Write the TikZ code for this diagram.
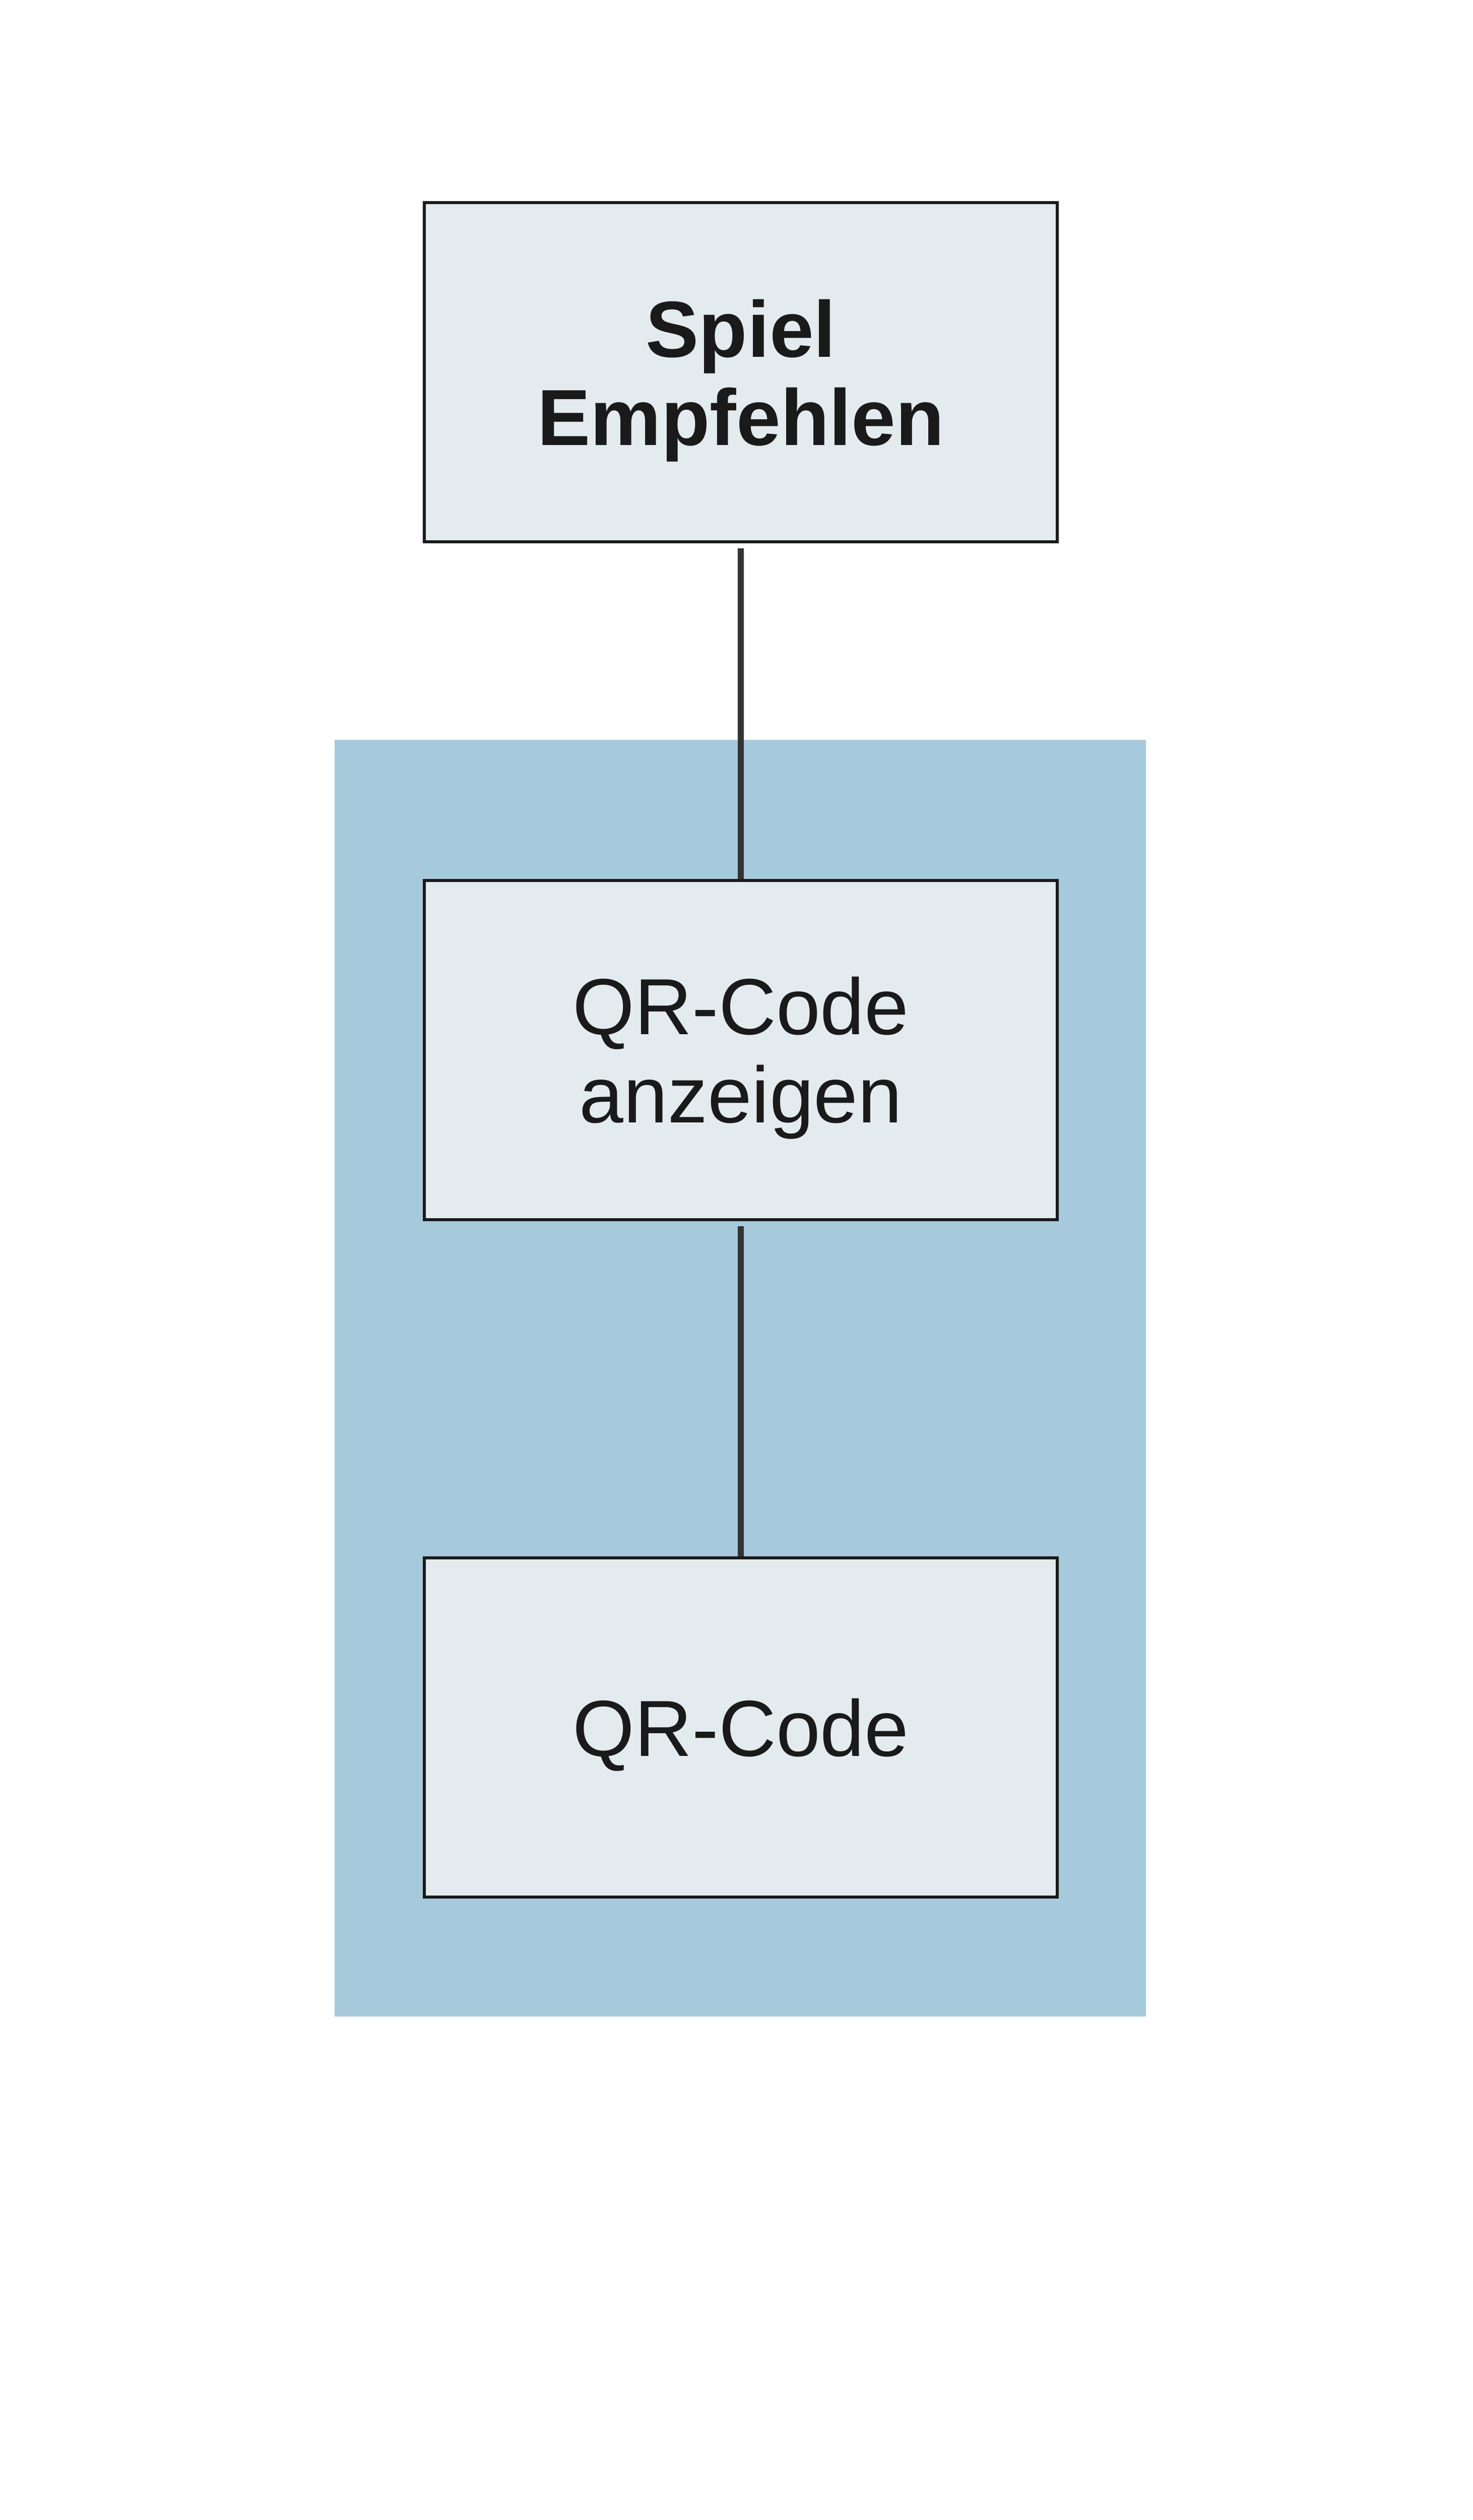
\documentclass[tikz,border=0pt]{standalone}
\usepackage{fontspec}
\setmainfont{Liberation Sans}
\usetikzlibrary{positioning}
\definecolor{groupblue}{HTML}{A6C9DC}
\definecolor{boxfill}{HTML}{E3EBEF}
\definecolor{boxline}{HTML}{1A1A1A}
\definecolor{linkline}{HTML}{333333}
\begin{document}
\begin{tikzpicture}[
		box/.style={rectangle, draw=boxline, fill=boxfill, line width=1.8pt, minimum width=13.14cm, minimum height=7.04cm, inner sep=0pt, text depth=0pt, align=center, text=boxline, font=\fontsize{47pt}{52pt}\selectfont},
		link/.style={draw=linkline, line width=3.6pt, shorten <=3pt},
		node distance=6.96cm]
			\useasboundingbox (0,0) rectangle (30.58,-52.31);
			\fill[groupblue] (6.95,-15.36) rectangle (23.79,-41.86);
			\node[box, font=\fontsize{47pt}{52pt}\selectfont\bfseries] (spiel) at (15.38,-7.73) {Spiel\\Empfehlen};
			\node[box, below=of spiel] (anzeigen) {QR-Code\\anzeigen};
			\node[box, below=of anzeigen] (qrcode) {QR-Code};
			\draw[link] (spiel) -- (anzeigen);
			\draw[link] (anzeigen) -- (qrcode);
		\end{tikzpicture}
\end{document}
